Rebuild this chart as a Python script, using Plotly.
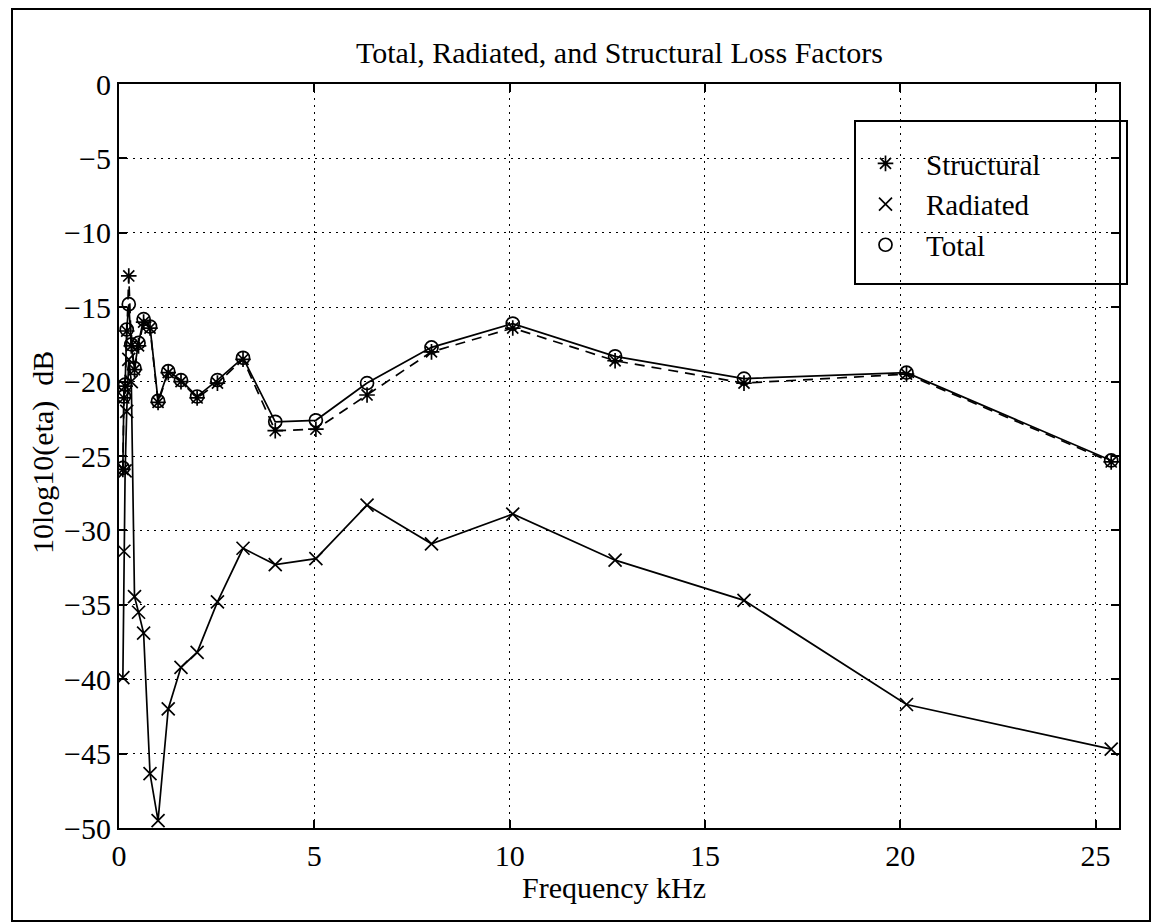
import plotly.graph_objects as go

# One-third-octave band centres (kHz) and loss factors in dB (10*log10(eta))
freq_khz = [0.099, 0.125, 0.157, 0.198, 0.25, 0.315, 0.397, 0.5, 0.63, 0.794,
            1.0, 1.26, 1.587, 2.0, 2.52, 3.175, 4.0, 5.04, 6.35, 8.0,
            10.08, 12.7, 16.0, 20.16, 25.4]

structural_db = [-25.9, -21.1, -20.3, -16.6, -12.9, -17.6, -19.2, -17.6, -16.0, -16.4,
                 -21.4, -19.4, -20.0, -21.1, -20.1, -18.5, -23.3, -23.2, -20.9, -18.0,
                 -16.4, -18.6, -20.1, -19.5, -25.4]

total_db = [-25.8, -21.0, -20.2, -16.5, -14.8, -17.5, -19.1, -17.4, -15.8, -16.3,
            -21.3, -19.3, -19.9, -21.0, -19.9, -18.4, -22.7, -22.6, -20.1, -17.7,
            -16.1, -18.3, -19.8, -19.4, -25.3]

radiated_db = [-39.9, -31.4, -26.0, -22.0, -18.5, -20.0, -34.45, -35.5, -36.9, -46.35,
               -49.5, -42.0, -39.2, -38.2, -34.8, -31.2, -32.3, -31.9, -28.3, -30.9,
               -28.9, -32.0, -34.7, -41.7, -44.7]

x_ticks = [0, 5, 10, 15, 20, 25]
y_ticks = [-50, -45, -40, -35, -30, -25, -20, -15, -10, -5, 0]

FONT = "Liberation Serif, Times New Roman, serif"
INK = "black"

W, H = 1154, 923
L, R, T, B = 119, 35, 84, 95
PW, PH = W - L - R, H - T - B


def px_x(p):
    return (p - L) / PW


def px_y(p):
    return (H - B - p) / PH


fig = go.Figure()

# connecting lines
fig.add_trace(go.Scatter(x=freq_khz, y=structural_db, mode="lines",
                         line=dict(color=INK, width=1.7, dash="10px,7px"),
                         showlegend=False, hoverinfo="skip"))
fig.add_trace(go.Scatter(x=freq_khz, y=radiated_db, mode="lines",
                         line=dict(color=INK, width=1.7),
                         showlegend=False, hoverinfo="skip"))
fig.add_trace(go.Scatter(x=freq_khz, y=total_db, mode="lines",
                         line=dict(color=INK, width=1.7),
                         showlegend=False, hoverinfo="skip"))

# markers
fig.add_trace(go.Scatter(x=freq_khz, y=structural_db, mode="markers", name="Structural",
                         marker=dict(symbol="asterisk-open", size=13, color=INK,
                                     line=dict(color=INK, width=1.7))))
fig.add_trace(go.Scatter(x=freq_khz, y=radiated_db, mode="markers", name="Radiated",
                         marker=dict(symbol="x-thin-open", size=13, color=INK,
                                     line=dict(color=INK, width=1.7))))
fig.add_trace(go.Scatter(x=freq_khz, y=total_db, mode="markers", name="Total",
                         marker=dict(symbol="circle-open", size=13, color=INK,
                                     line=dict(color=INK, width=1.7))))

axis_common = dict(
    showline=True, linecolor=INK, linewidth=2, mirror="allticks",
    ticks="inside", ticklen=8, tickwidth=1.5, tickcolor=INK,
    showgrid=True, gridcolor=INK, gridwidth=1.3, griddash="2px,5px",
    zeroline=False, ticklabelstandoff=0,
    tickfont=dict(family=FONT, size=30, color=INK),
)

fig.update_xaxes(range=[0, 25.6], tickvals=x_ticks, **axis_common)
fig.update_yaxes(range=[-50, 0], tickvals=y_ticks, **axis_common)

fig.update_layout(
    width=W, height=H,
    margin=dict(l=L, r=R, t=T, b=B, autoexpand=False),
    paper_bgcolor="white", plot_bgcolor="white",
    font=dict(family=FONT, size=30, color=INK),
    showlegend=True,
    legend=dict(x=px_x(845), y=px_y(138), xanchor="left", yanchor="top",
                bgcolor="rgba(0,0,0,0)", borderwidth=0,
                font=dict(family=FONT, size=29, color=INK),
                itemwidth=71, tracegroupgap=0),
    shapes=[
        # outer frame
        dict(type="rect", xref="paper", yref="paper",
             x0=px_x(12), x1=px_x(1150), y0=px_y(921), y1=px_y(9),
             line=dict(color=INK, width=2)),
        # legend frame
        dict(type="rect", xref="paper", yref="paper",
             x0=px_x(855), x1=px_x(1127), y0=px_y(284), y1=px_y(121),
             line=dict(color=INK, width=2), fillcolor="white", layer="below"),
    ],
    annotations=[
        dict(text="Total, Radiated, and Structural Loss Factors", xref="paper", yref="paper",
             x=0.5, y=px_y(53), xanchor="center", yanchor="middle", showarrow=False,
             font=dict(family=FONT, size=30, color=INK)),
        dict(text="Frequency kHz", xref="paper", yref="paper",
             x=px_x(614), y=px_y(887), xanchor="center", yanchor="middle", showarrow=False,
             font=dict(family=FONT, size=30, color=INK)),
        dict(text="10log10(eta)  dB", xref="paper", yref="paper",
             x=px_x(43), y=px_y(453), xanchor="center", yanchor="middle", showarrow=False,
             textangle=-90, font=dict(family=FONT, size=30, color=INK)),
    ],
)

fig.write_html("out.html")
